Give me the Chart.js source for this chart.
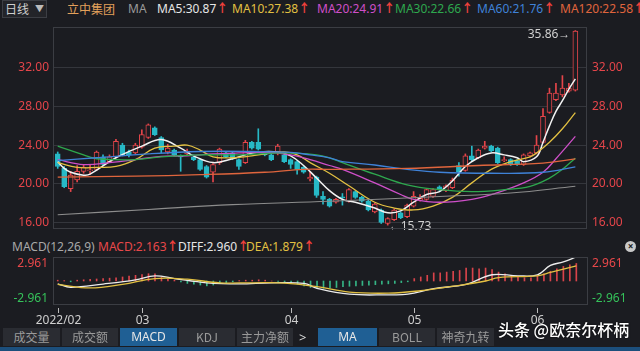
<!DOCTYPE html>
<html>
<head>
<meta charset="utf-8">
<script src="https://cdn.jsdelivr.net/npm/chart.js@4/dist/chart.umd.min.js"></script>
<style>
html,body{margin:0;padding:0}
body{width:640px;height:351px;background:#1b1c21;position:relative;overflow:hidden;font-family:"Noto Sans","Noto Sans CJK SC",sans-serif;font-size:12px;color:#ccc}
.t{position:absolute;white-space:nowrap;line-height:14px}
.t b{color:#f0403c;font-weight:bold}
.box{position:absolute;left:0;width:640px}
.tab{position:absolute;top:328px;height:18px;line-height:18px;text-align:center;background:#2a2c32;color:#9a9a9a;font-family:"Noto Sans CJK SC",sans-serif}
.on{background:#1f5f94;color:#e6e6e6;font-family:"Noto Sans",sans-serif}
</style>
</head>
<body>

<div class="t" style="left:2px;top:0;width:43px;height:16px;border:1px solid #3c3e44;background:#232429"></div>
<div class="t" style="left:5px;top:2px;color:#cfcfcf;font-family:'Noto Sans CJK SC'">日线</div>
<div class="t" style="left:35px;top:2px;color:#bbb;font-size:9px">▼</div>
<div class="t" style="left:67px;top:2px;color:#e3a15b;font-family:'Noto Sans CJK SC'">立中集团</div>
<div class="t" style="left:128px;top:2px;color:#9a9a9a">MA</div>
<div class="t" style="left:157px;top:2px;color:#e6e6e6">MA5:30.87<b>↑</b></div>
<div class="t" style="left:232px;top:2px;color:#e2c042">MA10:27.38<b>↑</b></div>
<div class="t" style="left:317px;top:2px;color:#cf4fc9">MA20:24.91<b>↑</b></div>
<div class="t" style="left:395px;top:2px;color:#2ea84e">MA30:22.66<b>↑</b></div>
<div class="t" style="left:477px;top:2px;color:#3f82d8">MA60:21.76<b>↑</b></div>
<div class="t" style="left:560px;top:2px;color:#e0653d">MA120:22.58<b>↑</b></div>

<div class="box" style="top:0;height:236px"><canvas id="c1"></canvas></div>

<div class="t" style="left:12px;top:240px;color:#a8a8a8">MACD(12,26,9)</div>
<div class="t" style="left:98px;top:240px;color:#e8484a">MACD:2.163<b>↑</b></div>
<div class="t" style="left:178px;top:240px;color:#e6e6e6">DIFF:2.960<b>↑</b></div>
<div class="t" style="left:246px;top:240px;color:#e2c042">DEA:1.879<b>↑</b></div>
<div class="t" style="left:625px;top:241px;width:11px;height:11px;border-radius:6px;background:#c8c8c8;color:#1b1c21;font-size:10px;line-height:11px;text-align:center;font-weight:bold">×</div>

<div class="box" style="top:250px;height:80px"><canvas id="c2"></canvas></div>

<div class="tab" style="left:3px;width:57px">成交量</div>
<div class="tab" style="left:62px;width:56px">成交额</div>
<div class="tab on" style="left:120px;width:57px">MACD</div>
<div class="tab" style="left:179px;width:56px">KDJ</div>
<div class="tab" style="left:237px;width:56px">主力净额</div>
<div class="t" style="left:299px;top:330px;color:#ddd;font-size:13px">&gt;</div>
<div class="tab on" style="left:318px;width:59px">MA</div>
<div class="tab" style="left:379px;width:56px">BOLL</div>
<div class="tab" style="left:437px;width:57px">神奇九转</div>
<div class="t" style="left:0;top:347px;width:640px;height:4px;background:#1c4f7c"></div>
<div class="t" style="left:498px;top:320px;color:#fff;font-size:16px;line-height:18px;font-family:'Noto Sans CJK SC';font-weight:500;text-shadow:0 0 2px #000">头条 @欧奈尔杯柄</div>

<script>
// daily candles, index 0 = first trading day shown (2022/02)
const O = [23.1,21.6,19.5,20.4,21.3,21.35,21.5,22.8,22.3,22.8, 24.0,23.3,23.2,23.8,24.8,25.8,24.8,23.3,23.5,22.9,
           23.1,22.8,22.5,21.8,21.2,22.2,23.2,23.2,22.5,22.2, 24.3,24.3,23.2,23.0,23.3,23.0,22.5,22.3,21.7,20.5,
           20.7,18.7,18.4,18.1,18.65,18.2,19.2,18.6,18.2,17.1, 17.3,15.9,16.3,17.0,16.6,17.7,18.3,18.4,18.7,19.7,
           19.3,19.6,21.9,21.4,22.9,22.7,23.7,23.9,23.7,22.4, 22.5,22.4,22.0,22.9,23.2,24.3,27.4,28.7,29.2,29.6, 29.7]
const H = [23.3,21.8,21.3,21.9,22.0,22.0,23.4,23.0,23.0,24.6, 24.2,23.5,24.2,25.6,26.2,25.9,24.9,24.1,23.6,23.0,
           23.6,23.0,22.6,21.9,22.1,23.7,23.3,23.3,22.6,24.5, 24.4,25.7,23.3,23.1,24.1,23.1,22.6,22.4,21.8,21.3,
           20.8,19.2,18.5,18.5,19.0,19.5,19.3,18.7,18.3,18.0, 17.4,16.5,17.4,17.1,17.9,19.2,18.9,19.5,19.5,19.8,
           19.9,20.6,22.2,23.1,23.9,23.6,24.4,24.0,23.8,22.8, 22.6,22.5,23.1,23.3,25.0,27.8,29.9,30.4,31.2,30.4, 35.86]
const L = [21.6,19.6,19.2,20.2,21.1,21.0,21.4,21.9,22.2,22.7, 22.9,22.8,23.1,23.7,24.7,25.0,23.2,23.1,22.9,21.3,
           23.0,22.4,21.4,20.6,20.2,22.0,22.7,22.5,21.5,22.1, 23.6,23.5,22.9,22.4,23.0,22.2,21.6,21.0,21.1,20.3,
           18.6,17.9,17.6,18.0,17.8,18.1,18.5,18.1,17.2,17.0, 15.9,15.73,16.2,16.4,16.5,17.6,18.2,18.3,18.6,19.3,
           19.2,19.5,20.8,21.3,22.4,22.6,23.6,23.3,22.1,22.3, 21.9,21.9,21.9,22.8,23.1,24.2,27.3,28.6,29.0,29.5, 29.6]
const C = [21.8,19.7,20.9,21.3,21.7,21.45,23.3,22.0,22.8,24.4, 23.0,23.0,24.0,25.1,26.1,25.1,23.5,23.7,23.0,22.8,
           23.4,22.5,21.5,20.7,22.0,23.6,22.8,22.6,21.8,24.3, 23.7,23.6,23.0,22.5,23.9,22.3,22.0,21.5,21.2,20.7,
           18.8,18.4,17.7,18.4,18.55,19.4,18.6,18.2,17.3,17.9, 16.0,16.4,17.3,16.5,17.8,18.7,18.5,19.4,19.4,19.4,
           19.8,20.4,21.2,22.9,22.5,23.5,23.9,23.4,22.2,22.5, 22.0,22.0,23.0,23.2,24.0,27.0,29.4,29.4,29.9,29.9, 35.8]

// moving averages as [day index, price]
const ma5 = [[0,22.3],[1,21.6],[2,21.2],[4,20.9],[5,21.0],[9,22.7],[13,23.9],[16,24.6],[19,23.7],[21,22.9],[24,22.2],[27,22.6],[29,23.0],[31,23.3],[34,23.3],[36,22.9],[38,21.9],[40,20.6],[42,19.3],[44,18.4],[46,18.1],[49,17.5],[51,17.0],[53,17.2],[55,18.1],[57,18.9],[59,19.2],[61,20.3],[63,21.8],[65,22.7],[67,23.2],[69,23.0],[71,22.7],[72,22.3],[74,22.8],[75,24.3],[76,26.0],[77,27.5],[78,28.6],[79,29.8],[80,30.87]]
const ma10 = [[0,22.2],[3,21.7],[6,21.7],[9,21.8],[12,22.5],[15,23.7],[18,23.9],[20,24.0],[22,23.5],[24,22.8],[27,22.7],[30,22.9],[32,23.1],[35,23.3],[37,23.0],[39,22.2],[42,21.1],[45,19.8],[49,18.1],[52,17.5],[55,17.3],[58,17.7],[61,18.6],[64,20.1],[67,21.5],[70,22.3],[73,22.8],[74,23.2],[76,24.3],[78,25.7],[80,27.38]]
const ma20 = [[0,22.5],[4,22.0],[8,22.2],[12,22.5],[16,22.85],[20,22.9],[24,23.1],[28,23.2],[32,23.25],[36,23.0],[39,22.5],[42,21.9],[44,21.5],[49,20.1],[53,18.9],[55,18.4],[59,18.1],[64,18.4],[68,19.1],[72,20.1],[75,21.2],[77,22.6],[80,24.91]]
const ma30 = [[0,23.9],[4,23.0],[6,22.6],[12,22.5],[16,22.8],[22,23.0],[28,23.0],[35,23.2],[40,23.0],[42,22.7],[44,22.2],[49,21.0],[54,19.9],[59,19.4],[64,19.2],[69,19.4],[73,19.75],[76,20.6],[78,21.5],[80,22.66]]
const ma60 = [[0,22.4],[6,22.7],[14,23.1],[22,23.35],[30,23.35],[36,23.25],[39,23.0],[42,22.7],[44,22.3],[49,21.95],[54,21.5],[59,21.2],[67,21.1],[75,21.2],[80,21.76]]
const ma120 = [[0,20.7],[12,20.8],[22,20.95],[32,21.2],[38,21.5],[42,21.5],[54,21.6],[65,21.9],[75,22.15],[80,22.58]]
const ma250 = [[0,16.8],[14,17.35],[27,17.85],[42,18.2],[59,18.7],[70,19.05],[80,19.75]]

// MACD pane
const diff = [[0,-0.35],[2,-0.77],[7,-0.38],[12,0.13],[15,0.64],[18,0.3],[23,-0.22],[28,-0.35],[33,-0.22],[38,-0.3],[40,-0.9],[45,-1.63],[51,-1.7],[54,-1.63],[58,-0.94],[63,-0.42],[67,0.77],[71,0.64],[74,0.77],[76,1.92],[78,2.35],[80,2.96]]
const dea = [[0,-0.42],[5,-0.86],[10,-0.42],[15,0.3],[20,0.22],[25,-0.22],[30,-0.22],[35,-0.25],[40,-0.7],[45,-1.37],[51,-1.5],[56,-1.2],[61,-0.64],[66,0],[68,0.42],[74,0.64],[76,1.06],[80,1.879]]
const hist = [0.1,0.05,-0.1,0.1,0.15, 0.2,0.25,0.3,0.35,0.4, 0.5,0.6,0.7,0.8,0.9,0.9, 0.5,0.2,0.1,-0.1,-0.3,
              -0.4,-0.5,-0.6,-0.5,-0.3, -0.2,-0.1,0.05,0.1,0.1, 0.15,0.1,0.0,-0.05,-0.1, -0.2,-0.4,-0.6,-0.8,-0.9,
              -0.9,-0.85,-0.8,-0.7,-0.65, -0.6,-0.55,-0.5,-0.45,-0.4, -0.35,-0.3,-0.2,-0.1,
              0.3,0.5,0.7,1.0,1.0, 1.1,1.2,1.3,1.6,1.6, 1.5,1.6,1.4,1.1,0.9, 0.7,0.5,0.4,0.4,0.6, 0.9,1.2,1.5,1.8,2.0,2.163]
const macdMax = 2.961

// axis ticks
const priceTicks = [16, 20, 24, 28, 32]
const monthIdx = [0, 13, 36, 55, 74]
const monthLbl = ['2022/02', '03', '04', '05', '06']

const BG = '#1b1c21', RED = '#e5454a', CYAN = '#27b9c6', GRID = '#34363c'
const XMIN = -0.73, XMAX = 81.8

Chart.defaults.font.family = '"Noto Sans", sans-serif'
Chart.defaults.font.size = 12

const up = C.map((c,i) => c >= O[i])
const ln = (d, col, w) => ({type:'line', data:d.map(([x,y]) => ({x,y})), borderColor:col, borderWidth:w||1.1, pointRadius:0, tension:0.4, order:1})

const frame = {id:'frame', afterDraw(c){
    const {ctx, chartArea:a} = c
    ctx.save()
    ctx.strokeStyle = '#3b3d43'
    ctx.lineWidth = 1
    ctx.strokeRect(Math.round(a.left)+.5, Math.round(a.top)+.5, Math.round(a.width)-1, Math.round(a.height)-1)
    ctx.restore()
}}

const mark = {id:'mark', afterDatasetsDraw(c){
    const {ctx, scales:{x, y}} = c
    const hi = H.indexOf(Math.max(...H)), lo = L.indexOf(Math.min(...L))
    ctx.save()
    ctx.font = '12px "Noto Sans"'
    ctx.fillStyle = '#d0d0d0'
    ctx.textBaseline = 'middle'
    ctx.textAlign = 'right'
    ctx.fillText(H[hi].toFixed(2) + '→', x.getPixelForValue(hi) - 5, y.getPixelForValue(H[hi]) + 4)
    ctx.textAlign = 'left'
    ctx.fillText('←' + L[lo].toFixed(2), x.getPixelForValue(lo) + 1, y.getPixelForValue(L[lo]) + 1)
    ctx.restore()
}}

const yAx = (pos, pad) => ({
    position:pos, min:15.33, max:36.23,
    // fixed width, and no label overhang so the plot keeps its own top/bottom
    afterFit: s => { s.width = 53; s.paddingTop = 0; s.paddingBottom = 0 },
    afterBuildTicks: s => { s.ticks = priceTicks.map(v => ({value:v})) },
    ticks:{color:RED, padding:pad, callback: v => v.toFixed(2)},
    grid:{color:GRID, drawTicks:false, display:pos == 'left'},
    border:{display:false}
})

const base = {responsive:true, maintainAspectRatio:false, devicePixelRatio:1, animation:false, events:[],
              plugins:{legend:{display:false}, tooltip:{enabled:false}}}

new Chart(document.getElementById('c1'), {
    type:'bar',
    data:{datasets:[
        // wicks
        {data:H.map((h,i) => ({x:i, y:[L[i], h]})), backgroundColor:up.map(u => u ? RED : CYAN), barThickness:1, grouped:false, order:3},
        // bodies: red hollow, cyan filled
        {data:O.map((o,i) => ({x:i, y:[o, C[i]]})), backgroundColor:up.map(u => u ? BG : CYAN), borderColor:up.map(u => u ? RED : CYAN),
         borderWidth:1, borderSkipped:false, barThickness:5, minBarLength:1, grouped:false, order:2},
        ln(ma250, '#8c8c8c'),
        ln(ma120, '#e0653d', 1.3),
        ln(ma60, '#3f82d8', 1.3),
        ln(ma30, '#2ea84e', 1.3),
        ln(ma20, '#cf4fc9', 1.3),
        ln(ma10, '#e2c042', 1.3),
        ln(ma5, '#f2f2f2', 1.5),
    ]},
    options:{...base,
        layout:{padding:{top:27, bottom:7}},
        scales:{
            x:{type:'linear', min:XMIN, max:XMAX, offset:false, display:false},
            y:yAx('left', 4),
            y2:yAx('right', 5),
        }
    },
    plugins:[frame, mark]
})

const pane = {id:'pane', afterDraw(c){
    const {ctx, chartArea:a, scales:{x, y}} = c
    ctx.save()
    ctx.font = '12px "Noto Sans"'
    ctx.textBaseline = 'middle'
    const t = y.getPixelForValue(macdMax) + 7, b = y.getPixelForValue(-macdMax) - 6
    ;[['right', a.left - 5], ['left', a.right + 4]].forEach(([al, px]) => {
        ctx.textAlign = al
        ctx.fillStyle = '#e8484a'; ctx.fillText(macdMax.toFixed(3), px, t)
        ctx.fillStyle = '#35c15a'; ctx.fillText((-macdMax).toFixed(3), px, b)
    })
    ctx.strokeStyle = '#bbb'
    ctx.fillStyle = '#cfcfcf'
    ctx.textAlign = 'center'
    monthIdx.forEach((m,k) => {
        const px = Math.round(x.getPixelForValue(m)) + .5
        ctx.beginPath(); ctx.moveTo(px, a.bottom + 3); ctx.lineTo(px, a.bottom + 8); ctx.stroke()
        ctx.fillText(monthLbl[k], px, a.bottom + 16)
    })
    ctx.restore()
}}

new Chart(document.getElementById('c2'), {
    type:'bar',
    data:{datasets:[
        {data:hist.map((v,i) => ({x:i, y:v})), backgroundColor:hist.map(v => v >= 0 ? '#d8434a' : '#35b585'), barThickness:1, order:2},
        ln(dea, '#e2c042', 1.3),
        ln(diff, '#ececec', 1.3),
    ]},
    options:{...base,
        layout:{padding:{left:53, right:52, top:7, bottom:25}},
        scales:{
            x:{type:'linear', min:XMIN, max:XMAX, offset:false, display:false},
            y:{min:-macdMax, max:macdMax, display:false}
        }
    },
    plugins:[frame, pane]
})
</script>
</body>
</html>
